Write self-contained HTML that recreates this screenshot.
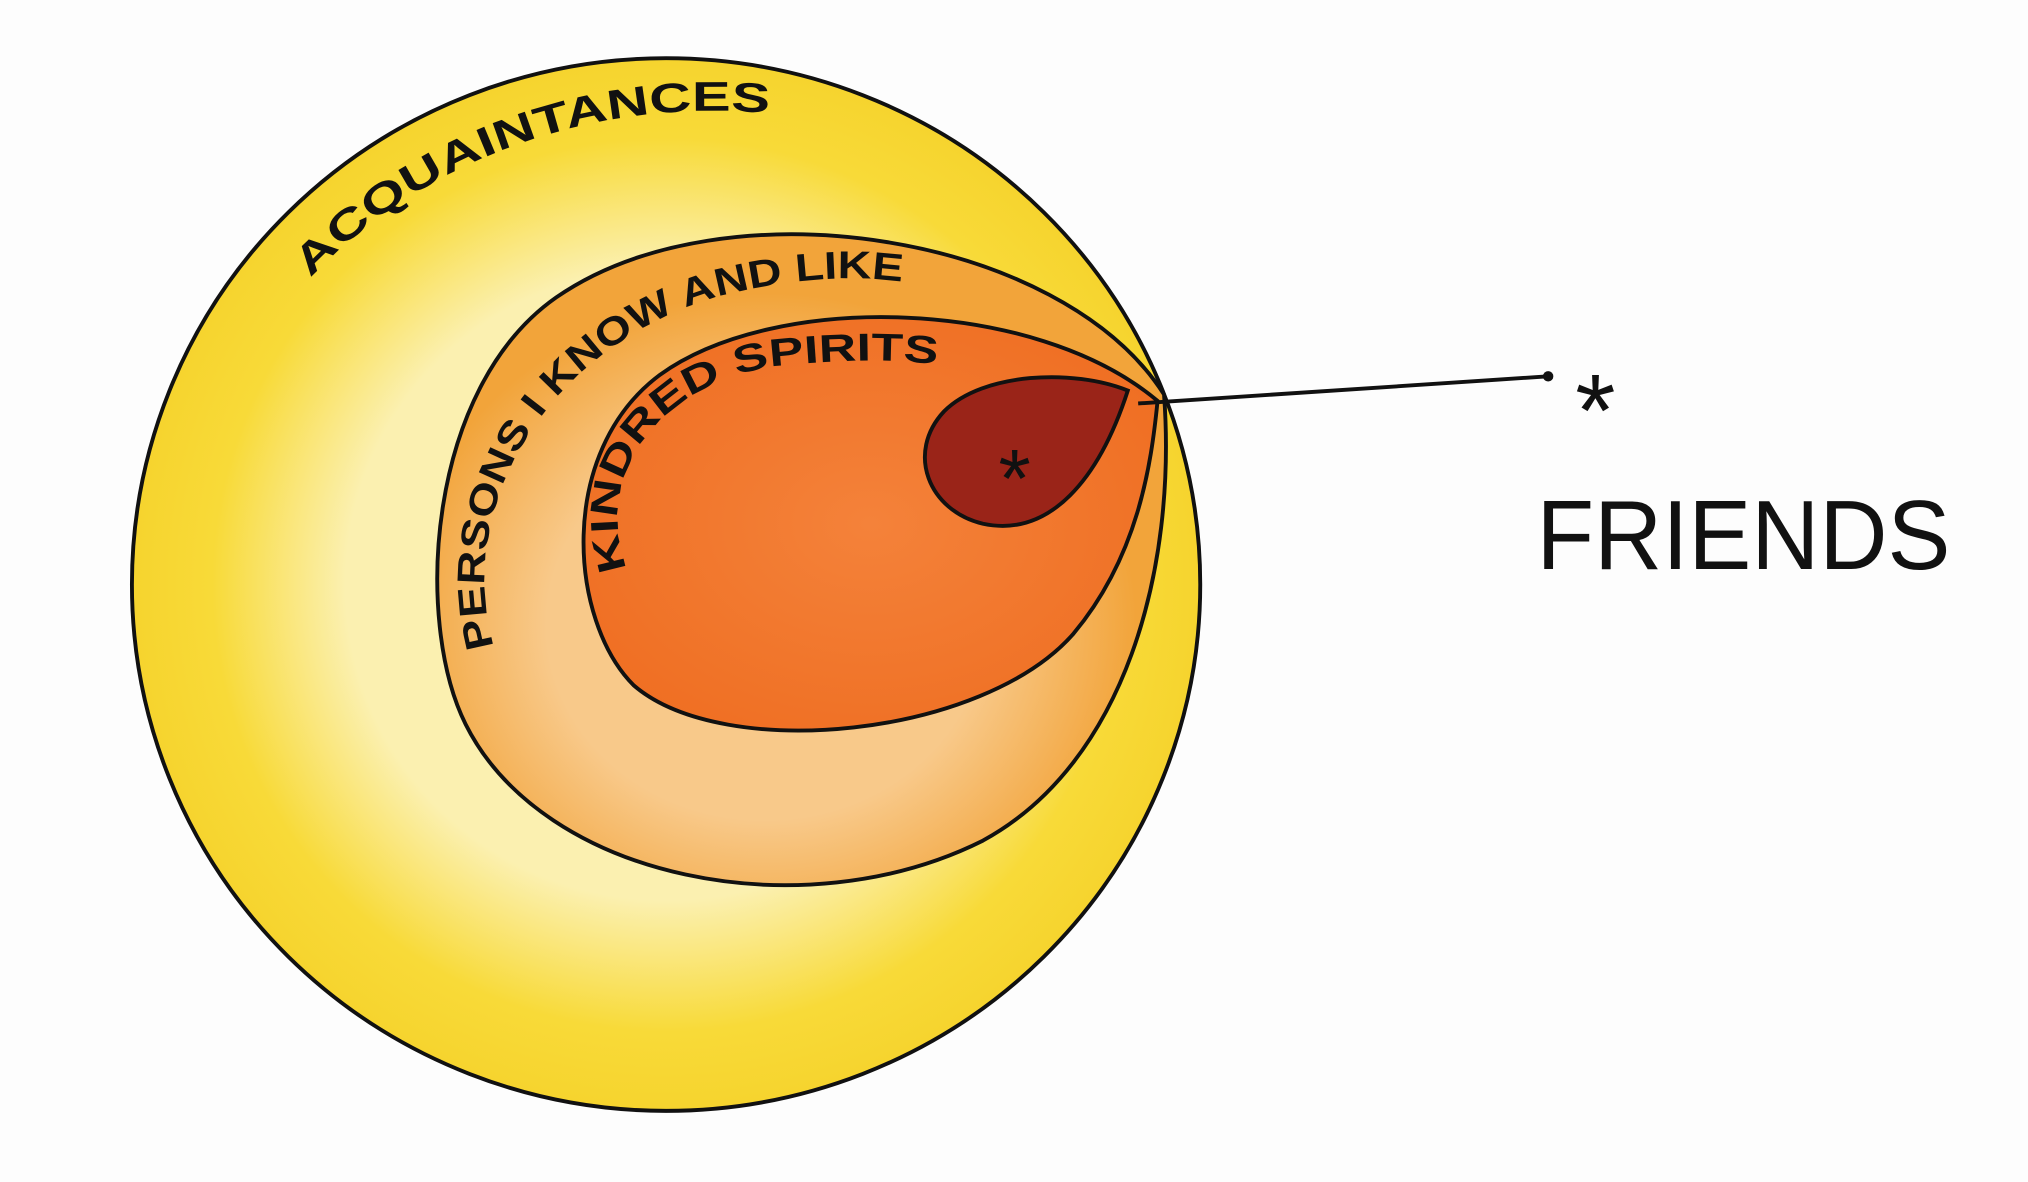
<!DOCTYPE html>
<html><head><meta charset="utf-8"><style>
html,body{margin:0;padding:0;background:#fdfdfd;}
svg{display:block;}
text{font-family:"Liberation Sans",sans-serif;fill:#111;}
</style></head><body>
<svg width="2028" height="1182" viewBox="0 0 1568 914" preserveAspectRatio="none" xmlns="http://www.w3.org/2000/svg">
<defs>
<radialGradient id="yg" cx="0.5" cy="0.5" r="0.5">
<stop offset="0.6" stop-color="#fbf0b0"/>
<stop offset="0.85" stop-color="#f8da38"/>
<stop offset="1" stop-color="#f6d42e"/>
</radialGradient>
<radialGradient id="og" cx="0.45" cy="0.6" r="0.6">
<stop offset="0.5" stop-color="#f8c98a"/>
<stop offset="0.85" stop-color="#f2a43a"/>
</radialGradient>
<radialGradient id="rg" cx="0.5" cy="0.5" r="0.6">
<stop offset="0" stop-color="#f4823a"/>
<stop offset="1" stop-color="#ef6e22"/>
</radialGradient>
<path id="p1" d="M240,215 C330,120 470,70 615,90"/>
<path id="p2" d="M382,500 C350,390 425,265 560,228 C635,210 690,212 745,228"/>
<path id="p3" d="M485,440 C455,360 520,290 610,282 C680,276 720,278 760,290"/>
</defs>
<ellipse cx="515" cy="452" rx="413" ry="407" fill="url(#yg)" stroke="#111" stroke-width="3"/>
<path d="M900,305 C820,180 560,140 430,230 C330,300 320,480 360,560 C420,680 620,720 760,650 C870,590 910,440 900,305 Z" fill="url(#og)" stroke="#111" stroke-width="3"/>
<path d="M895,310 C800,230 600,225 510,290 C430,350 440,480 490,530 C560,590 760,570 830,490 C880,430 890,360 895,310 Z" fill="url(#rg)" stroke="#111" stroke-width="3"/>
<path d="M872,302 C830,285 760,288 730,318 C700,350 718,395 760,405 C812,416 850,370 872,302 Z" fill="#9a2418" stroke="#111" stroke-width="3"/>
<text x="772" y="392" font-size="64">*</text>
<path d="M880,312 L1197,291" stroke="#111" stroke-width="3" fill="none"/>
<circle cx="1197" cy="291" r="4" fill="#111"/>
<text x="1218" y="345" font-size="80">*</text>
<text x="1188" y="440" font-size="76" textLength="320" lengthAdjust="spacingAndGlyphs">FRIENDS</text>
<text font-size="32" font-weight="bold"><textPath href="#p1" textLength="390" lengthAdjust="spacingAndGlyphs">ACQUAINTANCES</textPath></text>
<text font-size="30" font-weight="bold"><textPath href="#p2" textLength="500" lengthAdjust="spacingAndGlyphs">PERSONS I KNOW AND LIKE</textPath></text>
<text font-size="30" font-weight="bold"><textPath href="#p3" textLength="350" lengthAdjust="spacingAndGlyphs">KINDRED SPIRITS</textPath></text>
</svg>
</body></html>
